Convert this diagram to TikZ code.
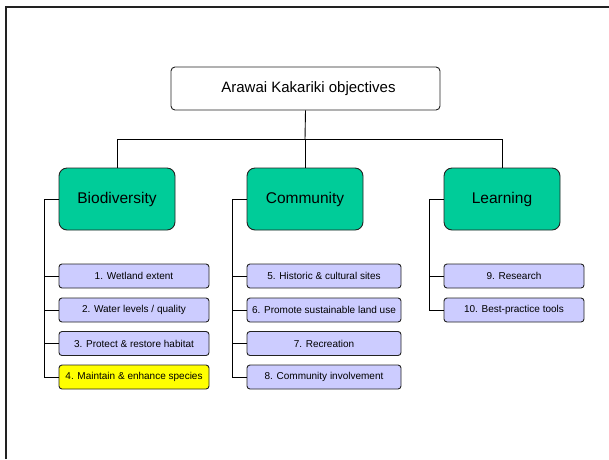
\documentclass[tikz,border=0pt]{standalone}
\usepackage{fontspec}
\setmainfont{Liberation Sans}
\definecolor{grn}{HTML}{00CC99}
\definecolor{lav}{HTML}{CCCCFF}
\definecolor{yel}{HTML}{FFFF00}
\definecolor{edge}{HTML}{222222}
\tikzset{
  topbox/.style={draw=edge, line width=0.9pt, rounded corners=4pt, fill=white, minimum width=269pt, minimum height=43pt, inner sep=0pt, font=\fontsize{15}{17}\selectfont},
  catbox/.style={draw=edge, line width=0.9pt, rounded corners=8pt, fill=grn, minimum width=116pt, minimum height=62pt, inner sep=0pt, font=\fontsize{15.5}{17}\selectfont},
  itembox/.style={draw=edge, line width=0.9pt, rounded corners=3pt, fill=lav, minimum height=24pt, inner sep=0pt, font=\fontsize{10}{12}\selectfont},
  conn/.style={draw=black, line width=0.9pt}
}
\begin{document}
\begin{tikzpicture}[x=1pt,y=-1pt]
\fill[white] (0,0) rectangle (609,459);
\useasboundingbox (0,0) rectangle (609,459);
\draw[line width=2pt, edge] (6,459) -- (6,7) -- (609,7);

\node[topbox] (top) at (305.5,88.5) {\hspace*{6pt}Arawai Kakariki objectives};

\node[catbox] (bio) at (117,199) {Biodiversity};
\node[catbox] (com) at (305,199) {Community};
\node[catbox] (lea) at (502,199) {Learning};

\node[itembox, minimum width=150pt] (b1) at (134,276) {1. Wetland extent};
\node[itembox, minimum width=150pt] (b2) at (134,310) {2. Water levels / quality};
\node[itembox, minimum width=150pt] (b3) at (134,343.5) {3. Protect \& restore habitat};
\node[itembox, minimum width=150pt, fill=yel] (b4) at (134,377) {4. Maintain \& enhance species};

\node[itembox, minimum width=154pt] (c1) at (324,276) {5. Historic \& cultural sites};
\node[itembox, minimum width=154pt] (c2) at (324,310) {6. Promote sustainable land use};
\node[itembox, minimum width=154pt] (c3) at (324,343.5) {7. Recreation};
\node[itembox, minimum width=154pt] (c4) at (324,377) {8. Community involvement};

\node[itembox, minimum width=140pt] (l1) at (514,276) {9. Research};
\node[itembox, minimum width=140pt] (l2) at (514,310) {10. Best-practice tools};

\coordinate (bus) at (305,139);
\coordinate (bioL) at (44.7,199);
\coordinate (comL) at (232,199);
\coordinate (leaL) at (429,199);

\draw[conn] (top.south) -- (bus);
\draw[conn] (bio.north) |- (bus);
\draw[conn] (lea.north) |- (bus);
\draw[conn] (com.north) -- (bus);

\draw[conn] (bio.west) -- (bioL) |- (b4.west);
\draw[conn] (bioL |- b1.west) -- (b1.west);
\draw[conn] (bioL |- b2.west) -- (b2.west);
\draw[conn] (bioL |- b3.west) -- (b3.west);

\draw[conn] (com.west) -- (comL) |- (c4.west);
\draw[conn] (comL |- c1.west) -- (c1.west);
\draw[conn] (comL |- c2.west) -- (c2.west);
\draw[conn] (comL |- c3.west) -- (c3.west);

\draw[conn] (lea.west) -- (leaL) |- (l2.west);
\draw[conn] (leaL |- l1.west) -- (l1.west);
\end{tikzpicture}
\end{document}
